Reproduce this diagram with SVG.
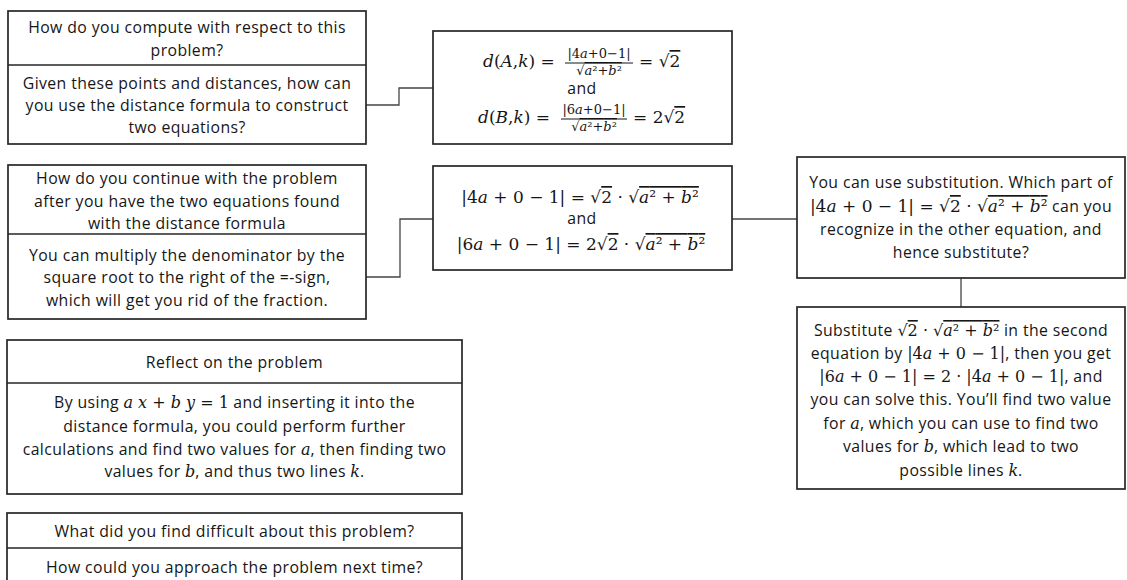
<svg xmlns="http://www.w3.org/2000/svg" width="1127" height="580" viewBox="0 0 1127 580">
  <style>
    .box{fill:#fff;stroke:#262626;stroke-width:1.7}
    .sep{stroke:#262626;stroke-width:1.6}
    .wire{fill:none;stroke:#444;stroke-width:1.3}
    .bar{stroke:#161616;stroke-width:1}
    .t{font-family:"Open Sans","Noto Sans","Liberation Sans",sans-serif;font-size:15.8px;letter-spacing:0.4px;fill:#161616;text-anchor:middle}
    .eq{font-family:"DejaVu Serif","Liberation Serif",serif;font-size:17px;fill:#161616}
    .m{font-family:"DejaVu Serif","Liberation Serif",serif;font-size:17px;letter-spacing:0}
    .ms{font-family:"DejaVu Serif","Liberation Serif",serif;font-size:16px;letter-spacing:0}
    .fr{font-size:13px;text-anchor:middle}
    .mi{font-style:italic}
    .ov{text-decoration:overline}
    .mid{text-anchor:middle}
  </style>
  <rect width="1127" height="580" fill="#fff"/>

  <!-- connectors -->
  <g id="connectors">
    <path class="wire" d="M366 105 H399 V88 H433"/>
    <path class="wire" d="M366 277 H400 V219 H433"/>
    <path class="wire" d="M732 219 H797"/>
    <path class="wire" d="M961 278 V307"/>
  </g>

  <!-- compute question -->
  <g id="compute">
    <rect class="box" x="8" y="11" width="358" height="133"/>
    <line class="sep" x1="8" y1="65" x2="366" y2="65"/>
    <text class="t" x="187" y="33">How do you compute with respect to this</text>
    <text class="t" x="187" y="56">problem?</text>
    <text class="t" x="187" y="89">Given these points and distances, how can</text>
    <text class="t" x="187" y="111">you use the distance formula to construct</text>
    <text class="t" x="187" y="133">two equations?</text>
  </g>

  <!-- distance equations -->
  <g id="distance-eqs">
    <rect class="box" x="433" y="31" width="299" height="113"/>
    <text class="eq" x="483" y="67"><tspan class="mi">d</tspan>(<tspan class="mi">A</tspan>,<tspan class="mi">k</tspan>) =</text>
    <line class="bar" x1="565" y1="63" x2="633" y2="63"/>
    <text class="eq fr" x="599" y="58">|4<tspan class="mi">a</tspan>+0−1|</text>
    <text class="eq fr" x="599" y="75">√<tspan class="ov"><tspan class="mi">a</tspan>²+<tspan class="mi">b</tspan>²</tspan></text>
    <text class="eq" x="639" y="67">= √<tspan class="ov">2</tspan></text>
    <text class="t" x="582" y="94">and</text>
    <text class="eq" x="478" y="123"><tspan class="mi">d</tspan>(<tspan class="mi">B</tspan>,<tspan class="mi">k</tspan>) =</text>
    <line class="bar" x1="561" y1="119" x2="627" y2="119"/>
    <text class="eq fr" x="594" y="114">|6<tspan class="mi">a</tspan>+0−1|</text>
    <text class="eq fr" x="594" y="131">√<tspan class="ov"><tspan class="mi">a</tspan>²+<tspan class="mi">b</tspan>²</tspan></text>
    <text class="eq" x="633" y="123">= 2√<tspan class="ov">2</tspan></text>
  </g>

  <!-- continue question -->
  <g id="continue">
    <rect class="box" x="8" y="165" width="358" height="154"/>
    <line class="sep" x1="8" y1="234" x2="366" y2="234"/>
    <text class="t" x="187" y="184">How do you continue with the problem</text>
    <text class="t" x="187" y="207">after you have the two equations found</text>
    <text class="t" x="187" y="229">with the distance formula</text>
    <text class="t" x="187" y="261">You can multiply the denominator by the</text>
    <text class="t" x="187" y="283">square root to the right of the =-sign,</text>
    <text class="t" x="187" y="306">which will get you rid of the fraction.</text>
  </g>

  <!-- multiplied equations -->
  <g id="multiplied-eqs">
    <rect class="box" x="433" y="166" width="299" height="104"/>
    <text class="eq mid" x="580" y="203">|4<tspan class="mi">a</tspan> + 0 − 1| = √<tspan class="ov">2</tspan> · √<tspan class="ov"><tspan class="mi">a</tspan>² + <tspan class="mi">b</tspan>²</tspan></text>
    <text class="t" x="582" y="224">and</text>
    <text class="eq mid" x="581" y="250">|6<tspan class="mi">a</tspan> + 0 − 1| = 2√<tspan class="ov">2</tspan> · √<tspan class="ov"><tspan class="mi">a</tspan>² + <tspan class="mi">b</tspan>²</tspan></text>
  </g>

  <!-- substitution hint -->
  <g id="substitution">
    <rect class="box" x="797" y="157" width="328" height="121"/>
    <text class="t" x="961" y="188">You can use substitution. Which part of</text>
    <text class="t" x="961" y="212"><tspan class="m">|4<tspan class="mi">a</tspan> + 0 − 1| = √<tspan class="ov">2</tspan> · √<tspan class="ov"><tspan class="mi">a</tspan>² + <tspan class="mi">b</tspan>²</tspan></tspan> can you</text>
    <text class="t" x="961" y="235">recognize in the other equation, and</text>
    <text class="t" x="961" y="258">hence substitute?</text>
  </g>

  <!-- substitution worked out -->
  <g id="solution">
    <rect class="box" x="797" y="307" width="328" height="182"/>
    <text class="t" x="961" y="336">Substitute <tspan class="ms">√<tspan class="ov">2</tspan> · √<tspan class="ov"><tspan class="mi">a</tspan>² + <tspan class="mi">b</tspan>²</tspan></tspan> in the second</text>
    <text class="t" x="961" y="359">equation by <tspan class="ms">|4<tspan class="mi">a</tspan> + 0 − 1|</tspan>, then you get</text>
    <text class="t" x="961" y="382"><tspan class="ms">|6<tspan class="mi">a</tspan> + 0 − 1| = 2 · |4<tspan class="mi">a</tspan> + 0 − 1|</tspan>, and</text>
    <text class="t" x="961" y="405">you can solve this. You’ll find two value</text>
    <text class="t" x="961" y="429">for <tspan class="ms mi">a</tspan>, which you can use to find two</text>
    <text class="t" x="961" y="452">values for <tspan class="ms mi">b</tspan>, which lead to two</text>
    <text class="t" x="961" y="476">possible lines <tspan class="ms mi">k</tspan>.</text>
  </g>

  <!-- reflection -->
  <g id="reflect">
    <rect class="box" x="7" y="340" width="455" height="154"/>
    <line class="sep" x1="7" y1="383" x2="462" y2="383"/>
    <text class="t" x="234.5" y="368">Reflect on the problem</text>
    <text class="t" x="234.5" y="408">By using <tspan class="ms"><tspan class="mi">a x</tspan> + <tspan class="mi">b y</tspan> = 1</tspan> and inserting it into the</text>
    <text class="t" x="234.5" y="432">distance formula, you could perform further</text>
    <text class="t" x="234.5" y="455">calculations and find two values for <tspan class="ms mi">a</tspan>, then finding two</text>
    <text class="t" x="234.5" y="477">values for <tspan class="ms mi">b</tspan>, and thus two lines <tspan class="ms mi">k</tspan>.</text>
  </g>

  <!-- looking back -->
  <g id="looking-back">
    <rect class="box" x="7" y="513" width="455" height="80"/>
    <line class="sep" x1="7" y1="548" x2="462" y2="548"/>
    <text class="t" x="234.5" y="537">What did you find difficult about this problem?</text>
    <text class="t" x="234.5" y="573">How could you approach the problem next time?</text>
  </g>
</svg>
